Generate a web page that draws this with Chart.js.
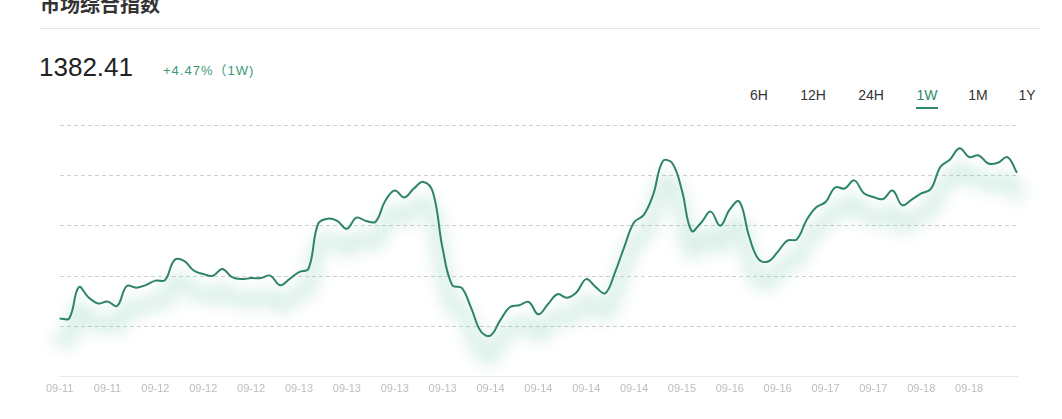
<!DOCTYPE html>
<html lang="zh">
<head>
  <meta charset="UTF-8">
  <title>市场综合指数</title>
  <script src="https://cdn.jsdelivr.net/npm/chart.js@4.4.0/dist/chart.umd.min.js"></script>
  <style>
    body { margin: 0; background: #fff; width: 1062px; height: 419px; overflow: hidden; position: relative; font-family: "Liberation Sans", "Noto Sans CJK SC", sans-serif; }
    .title { position: absolute; left: 40px; top: -8px; font-size: 20px; line-height: 24px; font-weight: bold; color: #333; font-family: "Noto Sans CJK SC", sans-serif; }
    .rule { position: absolute; left: 40px; right: 22px; top: 28px; height: 1px; background: #e6e6e6; }
    .price { position: absolute; left: 39px; top: 52px; font-size: 26px; line-height: 30px; color: #222; }
    .change { position: absolute; left: 163px; top: 62px; font-size: 13px; line-height: 18px; letter-spacing: 1px; color: #3a9a74; }
    .range { position: absolute; top: 86px; width: 40px; margin-left: -20px; text-align: center; font-size: 14px; line-height: 18px; color: #333; }
    .range.on { color: #2f8a6c; }
    .range.on::after { content: ""; position: absolute; left: 9px; right: 9px; top: 21px; height: 2px; background: #2f8a6c; }
    .wrap { position: absolute; left: 40px; top: 115px; width: 1000px; height: 287px; }
  </style>
</head>
<body>
  <div class="title">市场综合指数</div>
  <div class="rule"></div>
  <div class="price">1382.41</div>
  <div class="change">+4.47%（1W)</div>
  <div class="range" style="left:759px">6H</div>
  <div class="range" style="left:813px">12H</div>
  <div class="range" style="left:871px">24H</div>
  <div class="range on" style="left:927px">1W</div>
  <div class="range" style="left:978px">1M</div>
  <div class="range" style="left:1027px">1Y</div>
  <div class="wrap"><canvas id="chart"></canvas></div>

  <script>
    // x-Achse: jede 5. Messung bekommt ein Datum
    const tickLabels = ['09-11', '09-11', '09-12', '09-12', '09-12', '09-13', '09-13', '09-13', '09-13', '09-14',
                        '09-14', '09-14', '09-14', '09-15', '09-16', '09-16', '09-17', '09-17', '09-18', '09-18'];
    const labelEvery = 5;

    const indexValues = [
      1323.2, 1323.2, 1335.6, 1331.6, 1329.1, 1329.9, 1328.1, 1336.0, 1335.4, 1336.4,
      1338.2, 1338.4, 1346.4, 1346.0, 1342.2, 1340.8, 1340.1, 1342.8, 1339.6, 1338.8,
      1339.2, 1339.2, 1340.2, 1336.4, 1338.8, 1341.6, 1343.0, 1360.8, 1362.8, 1361.9,
      1358.8, 1363.2, 1361.9, 1361.6, 1369.8, 1374.0, 1371.2, 1374.8, 1377.4, 1373.2,
      1351.0, 1336.4, 1335.3, 1327.2, 1318.0, 1316.4, 1322.3, 1327.6, 1328.4, 1329.7,
      1324.8, 1328.8, 1332.8, 1331.4, 1333.6, 1338.8, 1335.6, 1333.2, 1341.4, 1351.8,
      1361.4, 1364.2, 1372.4, 1385.6, 1384.8, 1374.0, 1358.0, 1361.2, 1365.6, 1360.0,
      1366.5, 1369.6, 1356.0, 1346.7, 1345.8, 1349.6, 1354.1, 1354.6, 1362.1, 1367.2,
      1369.4, 1375.2, 1374.8, 1378.0, 1372.9, 1371.4, 1370.6, 1374.0, 1368.2, 1370.4,
      1372.8, 1374.6, 1383.4, 1386.3, 1390.8, 1387.3, 1387.9, 1384.7, 1385.0, 1387.2,
      1381.0
    ];

    const yMin = 1300, yMax = 1400, yStep = 20;

    // heller Schein unter der Linie
    const glow = {
      id: 'glow',
      beforeDatasetDraw(chart, args) {
        const line = args.meta.dataset;
        const ctx = chart.ctx;
        line.updateControlPoints(chart.chartArea, 'x');
        ctx.save();
        ctx.translate(0, 21);
        ctx.filter = 'blur(8px)';
        ctx.lineWidth = 14;
        ctx.lineJoin = 'round';
        ctx.lineCap = 'round';
        ctx.strokeStyle = 'rgba(120, 200, 168, 0.3)';
        ctx.beginPath();
        line.path(ctx);
        ctx.stroke();
        ctx.restore();
      }
    };

    const ctx = document.getElementById('chart').getContext('2d');
    new Chart(ctx, {
      type: 'line',
      data: {
        labels: indexValues.map((v, i) => i),
        datasets: [{
          data: indexValues,
          borderColor: '#2d8468',
          borderWidth: 2,
          pointRadius: 0,
          tension: 0.4,
          fill: false
        }]
      },
      plugins: [glow],
      options: {
        responsive: true,
        maintainAspectRatio: false,
        animation: false,
        layout: { padding: { left: 18, right: 23, top: 10, bottom: 0 } },
        plugins: { legend: { display: false }, tooltip: { enabled: false } },
        scales: {
          x: {
            grid: { display: false, drawTicks: false },
            border: { display: true, color: '#e8e8e8', width: 1 },
            ticks: {
              autoSkip: false, maxRotation: 0, minRotation: 0, padding: 6,
              color: '#bcbcbc',
              font: { size: 11, family: 'Liberation Sans' },
              callback: (v, i) => (i % labelEvery === 0 && i / labelEvery < tickLabels.length) ? tickLabels[i / labelEvery] : null
            }
          },
          y: {
            min: yMin, max: yMax,
            grid: {
              drawTicks: false,
              color: c => c.tick && c.tick.value === yMin ? 'rgba(0,0,0,0)' : '#cfcfcf'
            },
            border: { display: false, dash: [4, 3] },
            ticks: { display: false, stepSize: yStep }
          }
        }
      }
    });
  </script>
</body>
</html>
